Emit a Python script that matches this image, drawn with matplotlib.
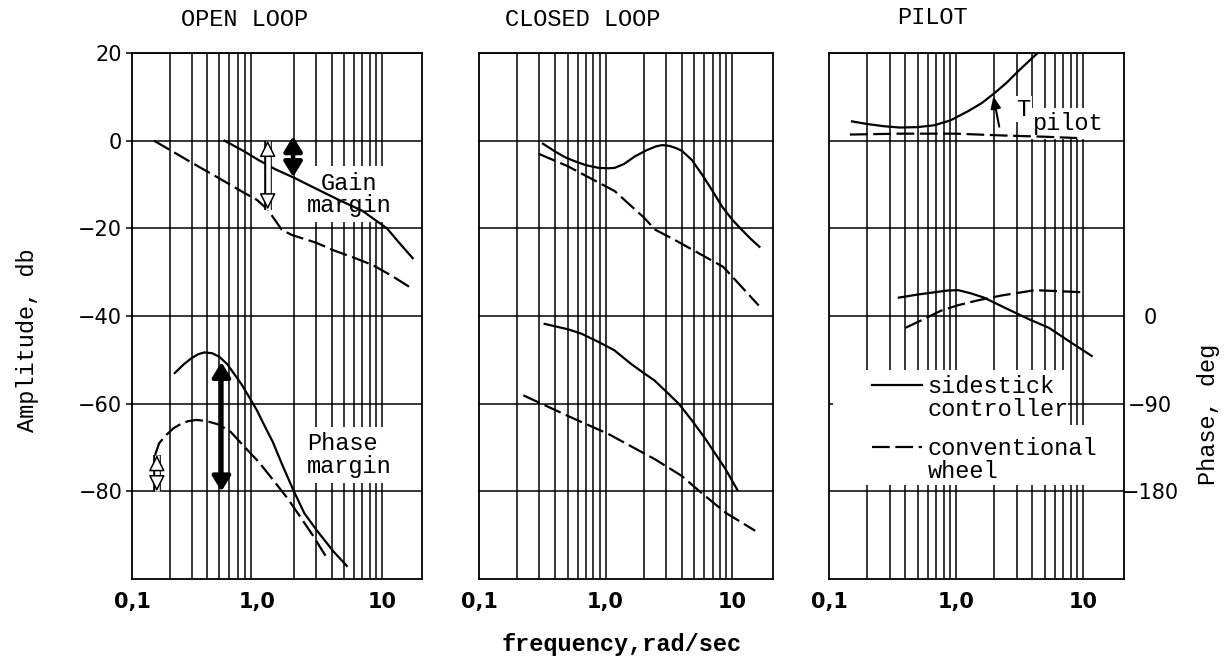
import matplotlib
matplotlib.use("Agg")
import matplotlib.pyplot as plt
from matplotlib.lines import Line2D
from matplotlib.patches import Rectangle
from matplotlib.ticker import NullFormatter

plt.rcParams['font.family'] = ['Liberation Mono', 'DejaVu Sans Mono']

# log paper grid (rad/sec)
grid_open = [0.2, 0.3, 0.4, 0.5, 0.6, 0.7, 0.8, 0.9, 2, 3, 4, 5, 6, 7, 8, 9, 10]
grid_other = [0.2, 0.3, 0.4, 0.5, 0.6, 0.7, 0.8, 0.9, 1.0, 2, 3, 4, 5, 6, 7, 8, 9, 10]
db_ticks = [20, 0, -20, -40, -60, -80]
freq_ticks = [0.1, 1.0, 10]
freq_labels = ["0,1", "1,0", "10"]
phase_ticks = [0, -90, -180]

# OPEN LOOP - amplitude
ol_amp_side_f = [0.55, 0.8, 1.0, 1.4, 2.0, 3.0, 4.6, 7.0, 11, 14, 17.7]
ol_amp_side_db = [0, -2.5, -4.2, -6.5, -8.5, -11, -13.6, -16, -20, -23.5, -26.8]
ol_amp_conv_f = [0.15, 0.3, 0.5, 0.78, 1.0, 1.22, 1.58, 1.9, 3.0, 4.1, 6.0, 8.5, 12, 17.4]
ol_amp_conv_db = [0, -5, -8.6, -11.8, -13.5, -15.7, -20.3, -21.5, -23.3, -25, -26.7, -28.4, -30.8, -33.7]
# OPEN LOOP - phase (plotted on the dB scale)
ol_ph_side_f = [0.22, 0.26, 0.3, 0.34, 0.38, 0.44, 0.5, 0.58, 0.65, 0.75, 0.88, 1.0,
                1.15, 1.34, 1.6, 1.95, 2.4, 3.0, 4.1, 5.25]
ol_ph_side_db = [-53, -51, -49.6, -48.7, -48.3, -48.5, -49.3, -51, -53, -55.5, -58.8, -61.5,
                 -65, -68.7, -74, -79.6, -85, -88.8, -93.7, -97]
ol_ph_conv_f = [0.153, 0.165, 0.19, 0.215, 0.24, 0.28, 0.33, 0.4, 0.5, 0.62, 0.83, 1.05,
                1.34, 1.75, 2.2, 2.8, 3.6]
ol_ph_conv_db = [-71.7, -69, -67, -65.6, -64.8, -64, -63.7, -64, -64.8, -66.5, -70.4, -73.5,
                 -77.3, -81.5, -85.6, -90, -95]

# CLOSED LOOP
cl_amp_side_f = [0.32, 0.4, 0.48, 0.56, 0.7, 0.88, 1.05, 1.18, 1.4, 1.7, 2.1, 2.5, 2.8,
                 3.2, 3.6, 4.0, 4.8, 5.8, 7.0, 8.3, 10, 11.6, 14, 16.4]
cl_amp_side_db = [-0.7, -2.5, -3.8, -4.6, -5.6, -6.2, -6.3, -6.2, -5.3, -3.6, -2.2, -1.3, -1.0,
                  -1.2, -1.7, -2.3, -4.4, -7.8, -11.5, -15, -18, -20, -22.4, -24.2]
cl_amp_conv_f = [0.296, 0.5, 1.18, 2.0, 2.46, 3.5, 8.5, 16.2]
cl_amp_conv_db = [-3, -5.8, -11.5, -17.5, -20.3, -22.6, -28.8, -37.6]
cl_ph_side_f = [0.33, 0.5, 0.64, 0.85, 1.17, 1.6, 2.0, 2.43, 3.0, 3.78, 4.8, 6.1, 7.5, 8.8, 11]
cl_ph_side_db = [-41.8, -43, -44, -45.7, -47.8, -51, -53, -54.7, -57.2, -60, -63.8, -67.9,
                 -71.8, -74.8, -79.7]
cl_ph_conv_f = [0.224, 0.56, 1.05, 2.46, 4.0, 5.9, 9.0, 15.2]
cl_ph_conv_db = [-58.1, -63.4, -66.9, -72.7, -76.5, -80.7, -85, -89]

# PILOT
pi_amp_side_f = [0.152, 0.2, 0.27, 0.36, 0.5, 0.67, 0.9, 1.24, 1.6, 2.0, 2.5, 3.1, 3.8, 4.7]
pi_amp_side_db = [4.4, 3.8, 3.3, 3.0, 3.1, 3.5, 4.6, 6.7, 8.6, 10.8, 13.2, 15.9, 18.3, 20.8]
pi_amp_conv_f = [0.146, 0.36, 1.0, 2.27, 5.0, 9.0]
pi_amp_conv_db = [1.4, 1.6, 1.6, 1.2, 0.9, 0.6]
pi_ph_side_f = [0.355, 0.5, 0.67, 0.85, 1.04, 1.3, 1.66, 2.5, 3.8, 5.4, 8.0, 11.7]
pi_ph_side_db = [-35.8, -35.1, -34.6, -34.2, -34.1, -34.8, -35.8, -38.3, -40.8, -42.7, -46, -49.1]
pi_ph_conv_f = [0.4, 0.55, 0.76, 1.05, 1.5, 2.3, 4.2, 10.4]
pi_ph_conv_db = [-42.7, -40.8, -38.8, -37.5, -36.4, -35.3, -34.1, -34.6]

# margin arrows: (freq, from dB, to dB)
gain_margin_side = (1.95, 1.0, -8.3)
gain_margin_conv = (1.22, 0.0, -15.7)
phase_margin_side = (0.52, -50.5, -80.0)
phase_margin_conv = (0.158, -71.7, -80.0)
t_pilot_arrow = ((2.19, 3.2), (1.97, 10.1))

DASH = (8, 2.5)
LW = 1.6


def db_to_phase(db):
    return (db + 40) * 4.5


def phase_to_db(ph):
    return ph / 4.5 - 40


def setup(ax, grid_f):
    ax.set_xscale('log')
    ax.set_xlim(0.1, 21)
    ax.set_ylim(-100, 20)
    ax.set_xticks(freq_ticks)
    ax.set_xticklabels(freq_labels)
    ax.set_xticks(grid_f, minor=True)
    ax.xaxis.remove_overlapping_locs = False
    ax.xaxis.set_minor_formatter(NullFormatter())
    ax.set_yticks(db_ticks)
    ax.grid(which='minor', axis='x', color='k', lw=1.1)
    ax.grid(which='major', axis='y', color='k', lw=1.1)
    ax.tick_params(axis='x', which='both', length=0, pad=9, labelsize=15,
                   labelfontfamily='DejaVu Sans')
    for lab in ax.get_xticklabels():
        lab.set_fontweight('bold')
    for sp in ax.spines.values():
        sp.set_linewidth(1.3)


def pair(ax, f1, y1, f2, y2):
    a, = ax.plot(f1, y1, color='k', lw=LW)
    b, = ax.plot(f2, y2, color='k', lw=LW, dashes=DASH)
    return a, b


def filled_arrow(ax, spec):
    f, y0, y1 = spec
    ax.annotate("", xy=(f, y1), xytext=(f, y0),
                arrowprops=dict(arrowstyle="<|-|>,head_length=0.9,head_width=0.55",
                                color='k', lw=3.2, shrinkA=0, shrinkB=0,
                                mutation_scale=10))


def open_arrow(ax, spec):
    f, y0, y1 = spec
    ax.plot([f, f], [y0, y1], color='k', lw=5.5, solid_capstyle='butt')
    ax.plot([f, f], [y0, y1], color='w', lw=3.3, solid_capstyle='butt')
    head = 3.2
    for tip, sign in ((y0, -1), (y1, 1)):
        ax.annotate("", xy=(f, tip), xytext=(f, tip + sign * head),
                    arrowprops=dict(arrowstyle="-|>,head_length=1.0,head_width=0.5",
                                    fc='w', ec='k', lw=1.1, shrinkA=0, shrinkB=0,
                                    mutation_scale=10))


fig = plt.figure(figsize=(12.27, 6.66), dpi=100)
ax1 = fig.add_axes([0.1076, 0.1306, 0.2363, 0.7898])
ax2 = fig.add_axes([0.3904, 0.1306, 0.2396, 0.7898])
ax3 = fig.add_axes([0.6756, 0.1306, 0.2404, 0.7898])

setup(ax1, grid_open)
setup(ax2, grid_other)
setup(ax3, grid_other)

ax1.tick_params(axis='y', length=4, width=1.1, pad=3, labelsize=15,
                labelfontfamily='DejaVu Sans')
for ax in (ax2, ax3):
    ax.tick_params(axis='y', length=0, labelleft=False)

# OPEN LOOP
pair(ax1, ol_amp_side_f, ol_amp_side_db, ol_amp_conv_f, ol_amp_conv_db)
pair(ax1, ol_ph_side_f, ol_ph_side_db, ol_ph_conv_f, ol_ph_conv_db)
filled_arrow(ax1, gain_margin_side)
open_arrow(ax1, gain_margin_conv)
filled_arrow(ax1, phase_margin_side)
open_arrow(ax1, phase_margin_conv)
box = dict(facecolor='white', edgecolor='none', pad=4)
ax1.text(5.44, -12.2, "Gain\nmargin", ha='center', va='center', fontsize=17,
         multialignment='center', linespacing=0.95, bbox=box, zorder=1.8)
ax1.text(5.5, -71.7, "Phase\nmargin", ha='center', va='center', fontsize=17,
         multialignment='left', linespacing=0.95, bbox=box, zorder=1.8)

# CLOSED LOOP
pair(ax2, cl_amp_side_f, cl_amp_side_db, cl_amp_conv_f, cl_amp_conv_db)
pair(ax2, cl_ph_side_f, cl_ph_side_db, cl_ph_conv_f, cl_ph_conv_db)

# PILOT
side, conv = pair(ax3, pi_amp_side_f, pi_amp_side_db, pi_amp_conv_f, pi_amp_conv_db)
pair(ax3, pi_ph_side_f, pi_ph_side_db, pi_ph_conv_f, pi_ph_conv_db)
ax3.annotate("", xy=t_pilot_arrow[1], xytext=t_pilot_arrow[0],
             arrowprops=dict(arrowstyle="-|>,head_length=0.7,head_width=0.3",
                             color='k', lw=1.5, shrinkA=0, shrinkB=0, mutation_scale=10))
ax3.text(3.4, 7.2, "T", ha='center', va='center', fontsize=17,
         bbox=dict(facecolor='white', edgecolor='none', pad=1), zorder=1.8)
ax3.text(7.7, 3.9, "pilot", ha='center', va='center', fontsize=17,
         bbox=dict(facecolor='white', edgecolor='none', pad=3), zorder=1.8)

# white area behind the key
ax3.add_patch(Rectangle((0.014, 0.178), 0.796, 0.219, transform=ax3.transAxes,
                        facecolor='white', edgecolor='none', zorder=1.8))
ax3.add_patch(Rectangle((0.81, 0.178), 0.15, 0.115, transform=ax3.transAxes,
                        facecolor='white', edgecolor='none', zorder=1.8))
blank = Line2D([], [], color='none')
key_kw = dict(loc='upper left', frameon=False, fontsize=17, handlelength=2.1,
              handletextpad=0.25, borderpad=0, borderaxespad=0, labelspacing=0.0)
leg1 = ax3.legend([side, blank], ["sidestick", "controller"],
                  bbox_to_anchor=(0.146, 0.388), **key_kw)
ax3.add_artist(leg1)
ax3.legend([conv, blank], ["conventional", "wheel"],
           bbox_to_anchor=(0.146, 0.27), **key_kw)

sec = ax3.secondary_yaxis('right', functions=(db_to_phase, phase_to_db))
sec.set_yticks(phase_ticks)
sec.tick_params(length=0, pad=19, labelsize=15, labelfontfamily='DejaVu Sans')
for lab in sec.get_yticklabels():
    lab.set_ha('center')
sec.spines['right'].set_visible(False)

# titles and axis labels
fig.text(245 / 1227, 1 - 20 / 666, "OPEN LOOP", ha='center', va='center', fontsize=17)
fig.text(583 / 1227, 1 - 20 / 666, "CLOSED LOOP", ha='center', va='center', fontsize=17)
fig.text(932 / 1227, 1 - 18 / 666, "PILOT", ha='center', va='center', fontsize=17)
fig.text(28 / 1227, 1 - 340 / 666, "Amplitude, db", rotation=90, ha='center',
         va='center', fontsize=17)
fig.text(1208 / 1227, 1 - 414 / 666, "Phase, deg", rotation=90, ha='center',
         va='center', fontsize=17)
fig.text(622 / 1227, 1 - 645 / 666, "frequency,rad/sec", ha='center', va='center',
         fontsize=17, fontweight='bold')

fig.savefig("out.png", dpi=100)
